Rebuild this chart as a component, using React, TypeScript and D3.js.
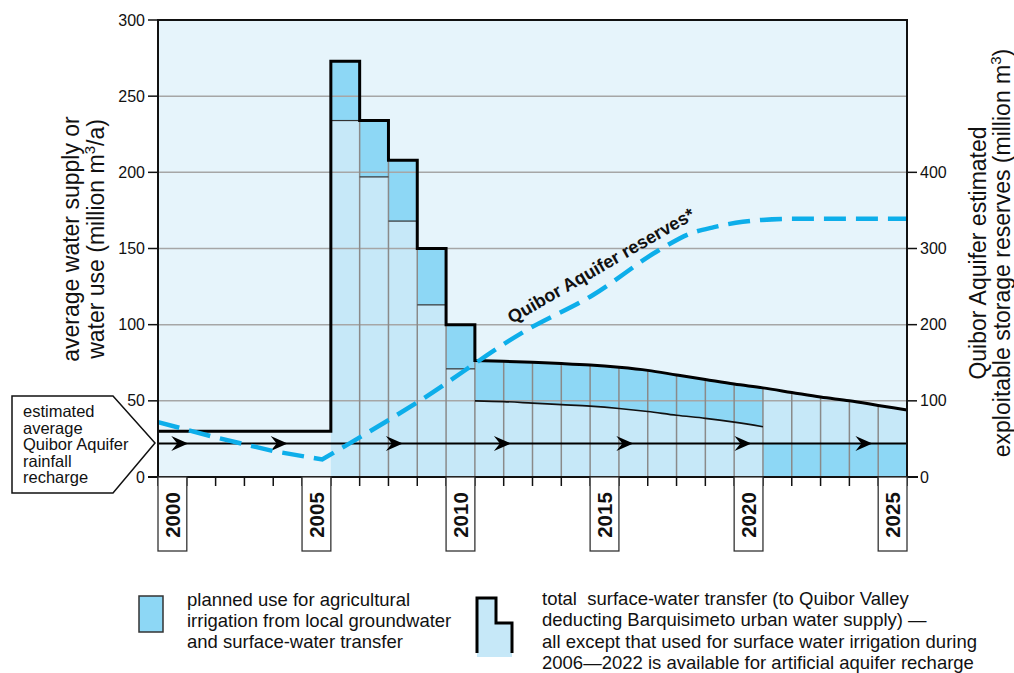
import React from 'react';
import * as d3 from 'd3';

// --- data ---
const stepYears = [2006, 2007, 2008, 2009, 2010];
const stepTotal = [273, 234, 208, 150, 100];
const stepIrrigBase = [234, 197, 168, 113, 71];
const earlyTransfer = 30; // 2000-2006 total transfer level
const curveYears = [2011, 2012, 2013, 2014, 2015, 2016, 2017, 2018, 2019, 2020, 2021, 2022, 2023, 2024, 2025, 2026];
const curveTotal = [76.5, 76, 75.3, 74.5, 73.5, 72, 70, 67, 64, 61, 58.5, 55.5, 52.5, 50, 47, 44];
const bandYears = [2011, 2012, 2013, 2014, 2015, 2016, 2017, 2018, 2019, 2020, 2021];
const bandLower = [50, 49.5, 48.5, 47.5, 46.5, 45, 43, 40.5, 38.5, 36, 33];
const rechargeLevel = 22;
const lateIrrigYears = [2021, 2026];
const reserveYears = [2000, 2002, 2004, 2005.7, 2009, 2012.8, 2015.1, 2017.4, 2018.5, 2019.3, 2020.3, 2022, 2026];
const reserveValues = [72, 52, 34, 23, 98, 193, 239, 298, 320, 328, 335, 339, 339];
const arrowYears = [2001.05, 2004.5, 2008.5, 2012.25, 2016.5, 2020.6, 2024.8];
const yearLabels = [2000, 2005, 2010, 2015, 2020, 2025];
const leftTicks = [0, 50, 100, 150, 200, 250, 300];
const rightTicks = [0, 100, 200, 300, 400];
const calloutLines = ['estimated', 'average', 'Quibor Aquifer', 'rainfall', 'recharge'];
const legendA = ['planned use for agricultural', 'irrigation from local groundwater', 'and surface-water transfer'];
const legendB = [
  'total  surface-water transfer (to Quibor Valley',
  'deducting Barquisimeto urban water supply) \u2014',
  'all except that used for surface water irrigation during',
  '2006\u20142022 is available for artificial aquifer recharge',
];

const BG = '#e6f4fb';
const LIGHT = '#c6e8f8';
const DARK = '#8dd7f5';
const DASH = '#0daeea';
const FONT = '"Liberation Sans", Arial, Helvetica, sans-serif';

export default function App() {
  const W = 1014, H = 673;
  const left = 158, right = 907, top = 20, bottom = 477;

  const x = d3.scaleLinear().domain([2000, 2026]).range([left, right]);
  const y = d3.scaleLinear().domain([0, 300]).range([bottom, top]);
  const yR = d3.scaleLinear().domain([0, 600]).range([bottom, top]);

  // light region (total surface water transfer from 2006)
  const stepPts: [number, number][] = [];
  stepYears.forEach((yr, i) => {
    stepPts.push([yr, stepTotal[i]]);
    stepPts.push([yr + 1, stepTotal[i]]);
  });
  const stepArea = d3.area<[number, number]>().x(d => x(d[0])).y0(y(0)).y1(d => y(d[1]));
  const curvePts: [number, number][] = curveYears.map((yr, i) => [yr, curveTotal[i]]);
  const curveArea = d3.area<[number, number]>().x(d => x(d[0])).y0(y(0)).y1(d => y(d[1])).curve(d3.curveMonotoneX);
  const curveLine = d3.line<[number, number]>().x(d => x(d[0])).y(d => y(d[1])).curve(d3.curveMonotoneX);
  const linLine = d3.line<[number, number]>().x(d => x(d[0])).y(d => y(d[1]));

  const outlinePts: [number, number][] = [[2000, earlyTransfer], [2006, earlyTransfer], ...stepPts, [2011, curveTotal[0]]];
  const outlinePath = linLine(outlinePts)! + curveLine(curvePts)!.replace(/^M/, 'L');

  // dark band 2011-2021
  const bandPts = bandYears.map((yr, i) => ({ yr, lo: bandLower[i], hi: curveTotal[curveYears.indexOf(yr)] }));
  const bandArea = d3.area<{ yr: number; lo: number; hi: number }>()
    .x(d => x(d.yr)).y0(d => y(d.lo)).y1(d => y(d.hi)).curve(d3.curveMonotoneX);
  const bandLowerLine = d3.line<{ yr: number; lo: number }>().x(d => x(d.yr)).y(d => y(d.lo)).curve(d3.curveMonotoneX);

  // vertical cell lines
  const totalAt = (yr: number) => {
    const si = stepYears.indexOf(yr);
    const ci = curveYears.indexOf(yr);
    if (si > 0) return Math.min(stepTotal[si], stepTotal[si - 1]);
    if (yr === 2011) return curveTotal[0];
    return ci >= 0 ? curveTotal[ci] : 0;
  };
  const cellYears = d3.range(2007, 2026);

  // reserves dashed line (right axis)
  const resPts: [number, number][] = reserveYears.map((yr, i) => [yr, reserveValues[i]]);
  const minIdx = reserveValues.indexOf(d3.min(reserveValues)!);
  const resLin = d3.line<[number, number]>().x(d => x(d[0])).y(d => yR(d[1]));
  const resCurve = d3.line<[number, number]>().x(d => x(d[0])).y(d => yR(d[1])).curve(d3.curveMonotoneX);
  const resPath = resLin(resPts.slice(0, minIdx + 1))! + resCurve(resPts.slice(minIdx))!.replace(/^M/, 'L');

  const arrowHead = 'M0,0 L-17,-7.5 L-11,0 L-17,7.5 Z';

  return (
    <svg width={W} height={H} style={{ position: 'absolute', left: 0, top: 0, display: 'block', background: '#fff' }}
      fontFamily={FONT}>
      {/* plot background */}
      <rect x={left} y={top} width={right - left} height={bottom - top} fill={BG} />

      {/* light fills */}
      <path d={stepArea(stepPts)!} fill={LIGHT} />
      <rect x={x(2011) - 0.5} y={y(curveTotal[0])} width={1} height={y(0) - y(curveTotal[0])} fill={LIGHT} />
      <path d={curveArea(curvePts)!} fill={LIGHT} />

      {/* dark fills */}
      {stepYears.map((yr, i) => (
        <rect key={yr} x={x(yr)} y={y(stepTotal[i])} width={x(yr + 1) - x(yr)}
          height={y(stepIrrigBase[i]) - y(stepTotal[i])} fill={DARK} />
      ))}
      <path d={bandArea(bandPts)!} fill={DARK} />
      <rect x={x(lateIrrigYears[0])} y={y(rechargeLevel)} width={x(lateIrrigYears[1]) - x(lateIrrigYears[0])}
        height={y(0) - y(rechargeLevel)} fill={DARK} />

      {/* horizontal gridlines */}
      {leftTicks.filter(t => t > 0 && t < 300).map(t => (
        <line key={t} x1={left} x2={right} y1={y(t)} y2={y(t)} stroke="#a6a6a6" strokeWidth={1.5} />
      ))}

      {/* vertical cell lines */}
      {cellYears.map(yr => (
        <line key={yr} x1={x(yr)} x2={x(yr)} y1={y(0)} y2={y(totalAt(yr))} stroke="#8a8a8a" strokeWidth={1.5} />
      ))}

      {/* dark bottoms */}
      {stepYears.map((yr, i) => (
        <line key={yr} x1={x(yr)} x2={x(yr + 1)} y1={y(stepIrrigBase[i])} y2={y(stepIrrigBase[i])}
          stroke="#333" strokeWidth={1.2} />
      ))}
      <path d={bandLowerLine(bandPts)!} fill="none" stroke="#111" strokeWidth={1.6} />

      {/* rainfall recharge line with arrows */}
      <line x1={left} x2={right} y1={y(rechargeLevel)} y2={y(rechargeLevel)} stroke="#000" strokeWidth={2} />
      {arrowYears.map(yr => (
        <path key={yr} d={arrowHead} transform={`translate(${x(yr)},${y(rechargeLevel)})`} fill="#000" />
      ))}

      {/* total transfer outline */}
      <path d={outlinePath} fill="none" stroke="#000" strokeWidth={3} strokeLinejoin="miter" />

      {/* reserves dashed line */}
      <path d={resPath} fill="none" stroke={DASH} strokeWidth={4.5} strokeDasharray="22 10" />
      <text transform="translate(604,271) rotate(-30)" textAnchor="middle" fontSize={18} fontWeight="bold" fill="#111">
        Quibor Aquifer reserves*
      </text>

      {/* plot frame */}
      <rect x={left} y={top} width={right - left} height={bottom - top} fill="none" stroke="#111" strokeWidth={2} />
      <line x1={148} x2={918} y1={bottom} y2={bottom} stroke="#111" strokeWidth={2} />

      {/* left axis */}
      {leftTicks.map(t => (
        <g key={t}>
          <line x1={148} x2={left} y1={y(t)} y2={y(t)} stroke="#111" strokeWidth={1.5} />
          <text x={145} y={y(t)} dy="0.35em" textAnchor="end" fontSize={16} fill="#111">{t}</text>
        </g>
      ))}

      {/* right axis */}
      {rightTicks.map(t => (
        <g key={t}>
          <line x1={right} x2={917} y1={yR(t)} y2={yR(t)} stroke="#111" strokeWidth={1.5} />
          <text x={920} y={yR(t)} dy="0.35em" textAnchor="start" fontSize={16} fill="#111">{t}</text>
        </g>
      ))}

      {/* bottom ticks */}
      {d3.range(2000, 2027).map(yr => (
        <line key={yr} x1={x(yr)} x2={x(yr)} y1={bottom} y2={486} stroke="#111" strokeWidth={1.5} />
      ))}
      {yearLabels.map(yr => {
        const x0 = x(yr), x1 = x(yr + 1);
        return (
          <g key={yr}>
            <rect x={x0} y={bottom} width={x1 - x0} height={74} fill="#fff" stroke="#333" strokeWidth={1.3} />
            <text transform={`translate(${(x0 + x1) / 2},${515}) rotate(-90)`} textAnchor="middle" dy="0.36em"
              fontSize={20.5} fontWeight="bold" fill="#111">{yr}</text>
          </g>
        );
      })}

      {/* axis titles */}
      <g transform="translate(0,239) rotate(-90)" fontSize={23} fill="#111" textAnchor="middle">
        <text x={0} y={79}>average water supply or</text>
        <text x={0} y={104}>water use (million m<tspan fontSize={15} dy={-9}>3</tspan><tspan dy={9}>/a)</tspan></text>
      </g>
      <g transform="translate(0,253) rotate(-90)" fontSize={23} fill="#111" textAnchor="middle">
        <text x={0} y={986}>Quibor Aquifer estimated</text>
        <text x={0} y={1010}>exploitable storage reserves (million m<tspan fontSize={15} dy={-9}>3</tspan><tspan dy={9}>)</tspan></text>
      </g>

      {/* rainfall recharge callout */}
      <polygon points="12,396 113,396 155,443 113,493 12,493" fill="#fff" stroke="#111" strokeWidth={1.5} />
      {calloutLines.map((s, i) => (
        <text key={s} x={23} y={417 + i * 16.5} fontSize={16.5} fill="#111">{s}</text>
      ))}

      {/* legend */}
      <rect x={139} y={596} width={24} height={36} fill={DARK} stroke="#333" strokeWidth={1.5} />
      {legendA.map((s, i) => (
        <text key={s} x={187} y={606 + i * 21} fontSize={18.5} fill="#111">{s}</text>
      ))}
      <path d="M477,657 V598 H496 V623 H512 V657 Z" fill={LIGHT} />
      <path d="M477,653 V598 H496 V623 H512 V653" fill="none" stroke="#000" strokeWidth={3} />
      {legendB.map((s, i) => (
        <text key={s} x={542} y={605 + i * 21.3} fontSize={18.5} fill="#111" style={{ whiteSpace: 'pre' }}>{s}</text>
      ))}
    </svg>
  );
}
